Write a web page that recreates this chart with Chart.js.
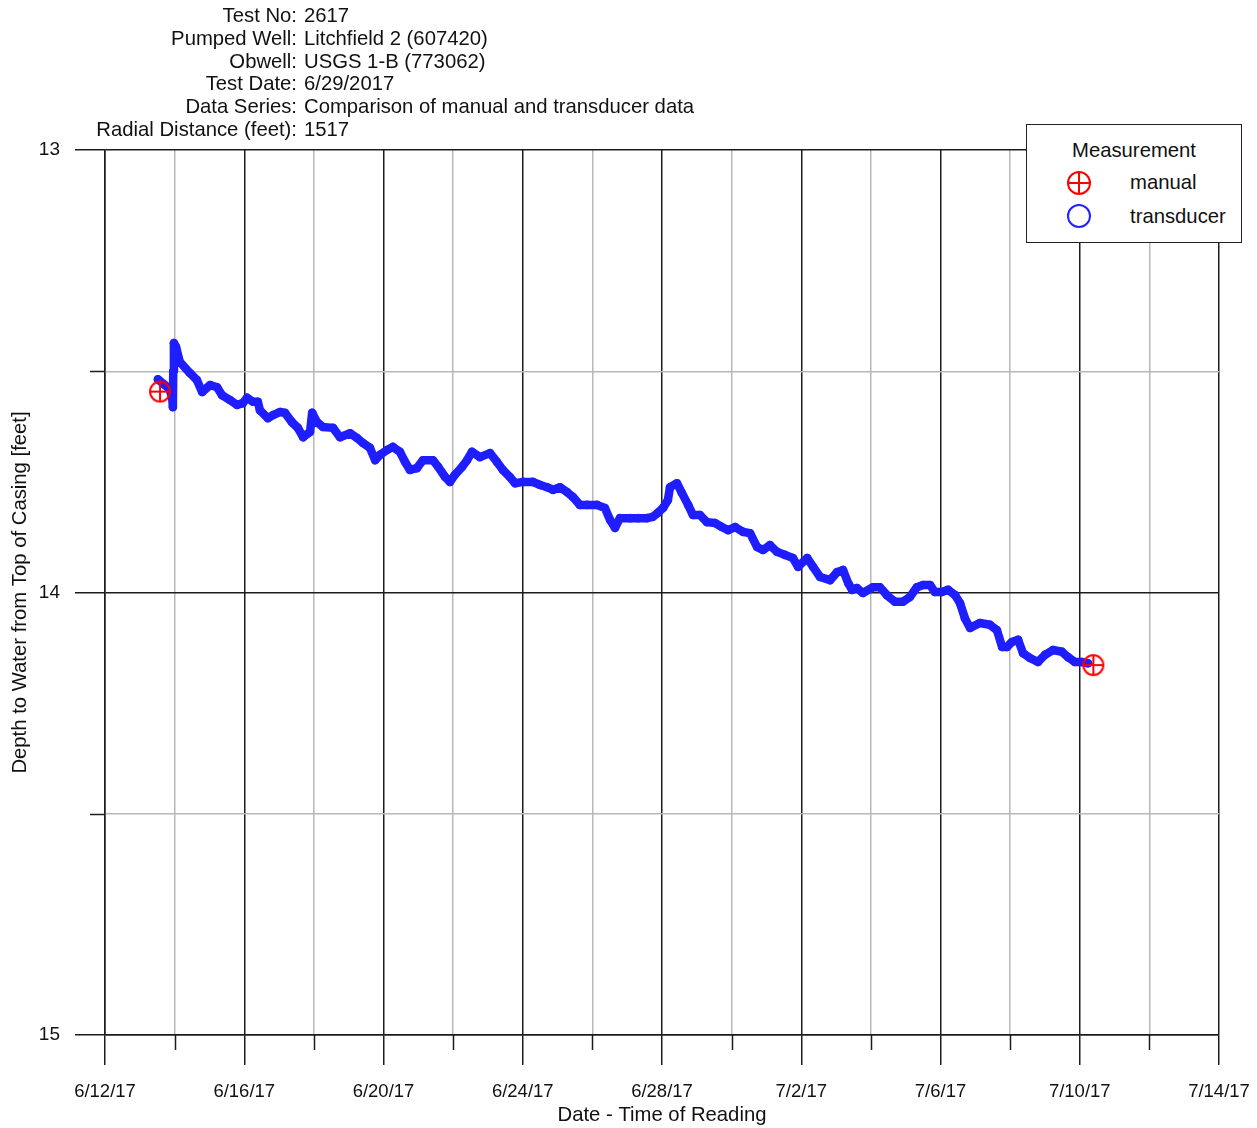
<!DOCTYPE html>
<html>
<head>
<meta charset="utf-8">
<title>Depth to Water - USGS 1-B</title>
<script src="https://cdn.jsdelivr.net/npm/chart.js@4.4.1/dist/chart.umd.min.js"></script>
<style>
  body { margin: 0; background: #fff; font-family: 'Liberation Sans', Arial, sans-serif; color: #111; }
  #wrap { position: relative; width: 1257px; height: 1128px; }
  #chart { position: absolute; left: 0; top: 0; }
  .row { position: absolute; left: 0; width: 800px; height: 23px; font-size: 20.3px; line-height: 23px; white-space: nowrap; }
  .row .k { position: absolute; right: 503px; }
  .row .v { position: absolute; left: 304px; }
  #legend { position: absolute; left: 1026px; top: 124px; width: 214px; height: 117px; border: 1.5px solid #222; background: #fff; font-size: 20.3px; }
  #legend .t { position: absolute; left: 0; width: 214px; top: 14px; text-align: center; }
  #legend .lab { position: absolute; left: 103px; }
  #legend svg { position: absolute; left: 38px; }
</style>
</head>
<body>
<div id="wrap">
  <canvas id="chart" width="1257" height="1128"></canvas>
  <div class="row" style="top:4px"><span class="k">Test No:</span><span class="v">2617</span></div>
  <div class="row" style="top:27px"><span class="k">Pumped Well:</span><span class="v">Litchfield 2 (607420)</span></div>
  <div class="row" style="top:50px"><span class="k">Obwell:</span><span class="v">USGS 1-B (773062)</span></div>
  <div class="row" style="top:72px"><span class="k">Test Date:</span><span class="v">6/29/2017</span></div>
  <div class="row" style="top:95px"><span class="k">Data Series:</span><span class="v">Comparison of manual and transducer data</span></div>
  <div class="row" style="top:118px"><span class="k">Radial Distance (feet):</span><span class="v">1517</span></div>
  <div id="legend">
    <div class="t">Measurement</div>
    <svg width="28" height="28" style="top:44px" viewBox="0 0 28 28">
      <circle cx="14" cy="14" r="11" fill="none" stroke="#f00" stroke-width="2"/>
      <path d="M3 14H25M14 3V25" stroke="#f00" stroke-width="2"/>
    </svg>
    <div class="lab" style="top:46px">manual</div>
    <svg width="28" height="28" style="top:77px" viewBox="0 0 28 28">
      <circle cx="14" cy="14" r="11" fill="none" stroke="#22f" stroke-width="2"/>
    </svg>
    <div class="lab" style="top:80px">transducer</div>
  </div>
</div>
<script>
// x values are days since 6/12/17 00:00, y values are depth to water in feet
const transducerDays = [
  1.52, 1.70, 1.85, 1.93, 1.95, 1.96, 1.98, 2.04, 2.15, 2.44, 2.64, 2.79, 3.02, 3.22, 3.36, 3.59, 3.79, 3.96,
  4.08, 4.25, 4.39, 4.45, 4.68, 4.83, 5.03, 5.17, 5.37, 5.54, 5.69, 5.89, 5.95, 6.09, 6.26, 6.55, 6.75, 7.04,
  7.24, 7.41, 7.61, 7.76, 7.90, 8.10, 8.27, 8.47, 8.62, 8.76, 8.96, 9.13, 9.42, 9.57, 9.77, 9.91, 10.05, 10.26,
  10.40, 10.54, 10.77, 11.06, 11.26, 11.43, 11.63, 11.78, 12.01, 12.29, 12.50, 12.70, 12.87, 13.07, 13.27, 13.44,
  13.64, 13.85, 14.13, 14.36, 14.51, 14.65, 14.79, 15.08, 15.31, 15.57, 15.74, 15.88, 16.03, 16.17, 16.23, 16.43,
  16.57, 16.75, 16.89, 17.09, 17.29, 17.52, 17.72, 17.90, 18.10, 18.33, 18.53, 18.73, 18.90, 19.10, 19.30, 19.53,
  19.76, 19.91, 20.17, 20.34, 20.54, 20.83, 21.03, 21.20, 21.35, 21.46, 21.60, 21.77, 22.06, 22.26, 22.46, 22.69,
  22.92, 23.12, 23.32, 23.50, 23.70, 23.84, 24.04, 24.22, 24.42, 24.56, 24.70, 24.85, 25.13, 25.42, 25.62, 25.77,
  25.91, 26.05, 26.23, 26.37, 26.57, 26.80, 27.00, 27.23, 27.49, 27.66, 27.86, 28.06, 28.24
];
const transducerDepth = [
  13.518, 13.530, 13.540, 13.560, 13.581, 13.500, 13.436, 13.445, 13.479, 13.504, 13.520, 13.547, 13.531, 13.536, 13.554, 13.565, 13.576, 13.572,
  13.560, 13.569, 13.569, 13.588, 13.606, 13.599, 13.592, 13.594, 13.615, 13.628, 13.649, 13.637, 13.594, 13.615, 13.626, 13.628, 13.649, 13.640,
  13.651, 13.662, 13.673, 13.701, 13.689, 13.678, 13.671, 13.682, 13.705, 13.723, 13.719, 13.701, 13.701, 13.716, 13.739, 13.750, 13.734, 13.716,
  13.701, 13.682, 13.694, 13.685, 13.705, 13.723, 13.739, 13.753, 13.750, 13.750, 13.757, 13.762, 13.768, 13.762, 13.773, 13.784,
  13.802, 13.802, 13.802, 13.809, 13.836, 13.854, 13.832, 13.832, 13.832, 13.832, 13.829, 13.820, 13.809, 13.791, 13.762, 13.753,
  13.775, 13.802, 13.825, 13.825, 13.841, 13.843, 13.852, 13.859, 13.852, 13.863, 13.866, 13.897, 13.904, 13.893, 13.908, 13.915,
  13.922, 13.942, 13.922, 13.942, 13.965, 13.972, 13.954, 13.949, 13.979, 13.994, 13.990, 14.001, 13.988, 13.988, 14.006, 14.021,
  14.021, 14.010, 13.988, 13.983, 13.983, 13.999, 13.999, 13.994, 14.006, 14.024, 14.058, 14.080, 14.069, 14.073, 14.085, 14.123,
  14.123, 14.112, 14.107, 14.137, 14.148, 14.157, 14.141, 14.130, 14.134, 14.146, 14.157, 14.157, 14.160
];
const manualDays = [1.58, 28.39];
const manualDepth = [13.546, 14.164];

const dateLabels = ['6/12/17', '6/16/17', '6/20/17', '6/24/17', '6/28/17', '7/2/17', '7/6/17', '7/10/17', '7/14/17'];
const depthLabels = [13, 14, 15];

const FONT = "'Liberation Sans', Arial, sans-serif";
const DARK = '#1c1c1c';
const LIGHT = '#b8b8b8';

function crossCircle(color, r) {
  const s = r * 2 + 4;
  const c = document.createElement('canvas');
  c.width = s; c.height = s;
  const g = c.getContext('2d');
  g.strokeStyle = color;
  g.lineWidth = 2;
  g.beginPath();
  g.arc(s / 2, s / 2, r, 0, Math.PI * 2);
  g.moveTo(s / 2 - r, s / 2); g.lineTo(s / 2 + r, s / 2);
  g.moveTo(s / 2, s / 2 - r); g.lineTo(s / 2, s / 2 + r);
  g.stroke();
  return c;
}

// short black ticks for the unlabelled (minor) grid lines
const minorTicks = {
  id: 'minorTicks',
  afterDraw(chart) {
    const { ctx, chartArea: a, scales: { x, y } } = chart;
    ctx.save();
    ctx.strokeStyle = DARK;
    ctx.lineWidth = 1.5;
    ctx.beginPath();
    x.ticks.forEach((t) => {
      if (t.value % 4 !== 0) {
        const px = Math.round(x.getPixelForValue(t.value)) + 0.5;
        ctx.moveTo(px, a.bottom); ctx.lineTo(px, a.bottom + 15);
      }
    });
    y.ticks.forEach((t) => {
      if (t.value % 1 !== 0) {
        const py = Math.round(y.getPixelForValue(t.value)) + 0.5;
        ctx.moveTo(a.left - 15, py); ctx.lineTo(a.left, py);
      }
    });
    ctx.stroke();
    ctx.restore();
  }
};

new Chart(document.getElementById('chart'), {
  type: 'scatter',
  data: {
    datasets: [
      {
        label: 'manual',
        data: manualDays.map((d, i) => ({ x: d, y: manualDepth[i] })),
        pointStyle: crossCircle('#ff0000', 10),
        pointRadius: 12,
        order: 0
      },
      {
        label: 'transducer',
        data: transducerDays.map((d, i) => ({ x: d, y: transducerDepth[i] })),
        showLine: true,
        borderColor: 'rgb(30,30,255)',
        borderWidth: 8.5,
        borderJoinStyle: 'round',
        borderCapStyle: 'round',
        pointRadius: 3.6,
        pointBorderWidth: 1.4,
        pointBorderColor: 'rgb(30,30,255)',
        pointBackgroundColor: 'rgba(0,0,0,0)',
        order: 1
      }
    ]
  },
  options: {
    responsive: false,
    animation: false,
    layout: { padding: { top: 150, right: 38, left: 0, bottom: 0 } },
    plugins: { legend: { display: false }, tooltip: { enabled: false } },
    scales: {
      x: {
        type: 'linear',
        min: 0,
        max: 32,
        afterFit: (s) => { s.height = 93; s.paddingLeft = 0; s.paddingRight = 0; },
        border: { color: DARK, width: 1.5 },
        grid: {
          lineWidth: 1.5,
          color: (c) => (c.tick && c.tick.value % 4 === 0 ? DARK : LIGHT),
          tickColor: (c) => (c.tick && c.tick.value % 4 === 0 ? DARK : 'rgba(0,0,0,0)'),
          tickLength: 30
        },
        ticks: {
          stepSize: 2,
          autoSkip: false,
          maxRotation: 0,
          padding: 16,
          color: '#111',
          font: { family: FONT, size: 18.5 },
          callback: (v) => (v % 4 === 0 ? dateLabels[v / 4] : '')
        },
        title: {
          display: true,
          text: 'Date - Time of Reading',
          color: '#111',
          font: { family: FONT, size: 20.3 },
          padding: { top: 0, bottom: 0 }
        }
      },
      y: {
        type: 'linear',
        reverse: true,
        min: 13,
        max: 15,
        afterFit: (s) => { s.width = 105; },
        border: { color: DARK, width: 1.5 },
        grid: {
          lineWidth: 1.5,
          color: (c) => (c.tick && c.tick.value % 1 === 0 ? DARK : LIGHT),
          tickColor: (c) => (c.tick && c.tick.value % 1 === 0 ? DARK : 'rgba(0,0,0,0)'),
          tickLength: 30
        },
        ticks: {
          stepSize: 0.5,
          padding: 15,
          color: '#111',
          font: { family: FONT, size: 19 },
          callback: (v) => (depthLabels.includes(v) ? String(v) : '')
        },
        title: {
          display: true,
          text: 'Depth to Water from Top of Casing [feet]',
          color: '#111',
          font: { family: FONT, size: 20.3 },
          padding: { top: 8, bottom: 0 }
        }
      }
    }
  },
  plugins: [minorTicks]
});
</script>
</body>
</html>
